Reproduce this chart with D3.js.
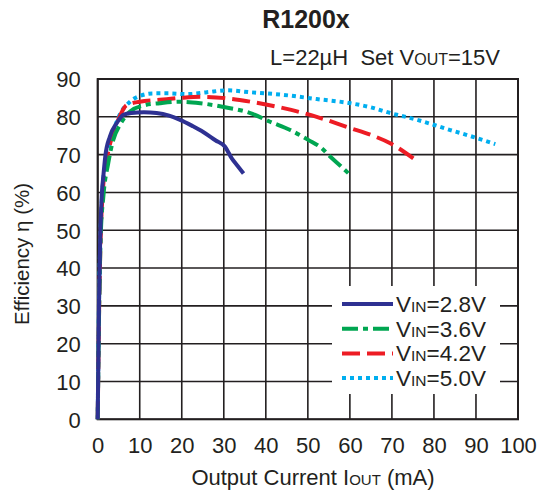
<!DOCTYPE html>
<html><head><meta charset="utf-8">
<script src="https://cdn.jsdelivr.net/npm/d3@7"></script>
<style>body{margin:0;background:#fff}svg{display:block}text{font-family:"Liberation Sans",Arial,sans-serif;fill:#231f20}</style>
</head><body><svg id="c" width="539" height="495"></svg>
<script>
const xTicks = [0,10,20,30,40,50,60,70,80,90,100];
const yTicks = [0,10,20,30,40,50,60,70,80,90];
const seriesNames = ["2.8V","3.6V","4.2V","5.0V"];
const vin28 = [[0,0],[0.3,30],[0.6,48],[0.95,59],[1.4,65],[1.8,69.5],[2.9,74.8],[4.5,78.3],[6.1,80.5],[8,81],[11,81.2],[14,81],[17,80.3],[19.6,79.2],[22.5,77.6],[25.1,76],[28,73.8],[30.3,72.1],[31.9,69],[33.3,67],[34.7,65]];
const vin36 = [[0,0],[0.35,30],[0.7,48],[1.35,59],[2.5,67.7],[3.7,73.9],[5.3,77.9],[7.7,81.4],[11.3,83.1],[14.8,83.6],[19.6,84],[24.4,83.6],[30,82.6],[36.3,81],[41,78.7],[45.8,76.5],[50.1,73.9],[53.3,71.7],[55.3,69.5],[57.8,67],[60.1,64.6]];
const vin42 = [[0,0],[0.35,30],[0.7,48],[1.2,60],[2.2,69],[3.5,75],[5,79.5],[6.9,83.1],[10,84],[14.8,84.5],[19.6,85],[24.4,85.3],[30.7,84.9],[36.3,84],[44.2,82.3],[52.1,80],[60.1,77],[65,75.2],[69.6,73],[75.1,69]];
const vin50 = [[0,0],[0.3,30],[0.65,48],[1.1,60],[2.1,69],[3.4,75],[5,80],[7.7,84],[10,85.5],[13.2,86.2],[17,86.2],[21.2,86],[26,86.5],[30.7,87],[36.3,86.5],[44.2,85.8],[52.1,84.7],[60.1,83.6],[65,82.5],[69.6,81],[76,79.2],[83.9,76.5],[89,74.8],[94.6,72.8]];
const seriesData = [vin28, vin36, vin42, vin50];
const colors = ["#2e3192","#00a651","#ed1c24","#00aeef"];
const dashes = [null,"16,5,5,5","18,7","4,4"];

const svg = d3.select("#c");
const x = d3.scaleLinear().domain([0,100]).range([97.7,518]);
const y = d3.scaleLinear().domain([0,90]).range([419.3,79]);

// grid
const g = svg.append("g");
g.selectAll(".vg").data(xTicks).join("line")
 .attr("x1",d=>x(d)).attr("x2",d=>x(d)).attr("y1",y(0)).attr("y2",y(90))
 .attr("stroke","#231f20").attr("stroke-width",1.6);
g.selectAll(".hg").data(yTicks).join("line")
 .attr("y1",d=>y(d)).attr("y2",d=>y(d)).attr("x1",x(0)).attr("x2",x(100))
 .attr("stroke","#231f20").attr("stroke-width",1.6);

// axes labels via d3 axes
const xa = svg.append("g").attr("transform",`translate(0,${y(0)})`)
 .call(d3.axisBottom(x).tickValues(xTicks).tickSize(0).tickPadding(20));
const ya = svg.append("g").attr("transform",`translate(${x(0)},0)`)
 .call(d3.axisLeft(y).tickValues(yTicks).tickSize(0).tickPadding(17));
[xa,ya].forEach(a=>{a.select(".domain").remove();a.selectAll("text").attr("font-size",22).attr("font-family",'"Liberation Sans",Arial,sans-serif').attr("fill","#231f20");});
ya.selectAll("text").attr("dy","0.36em");
xa.selectAll("text").attr("dy","0.71em").attr("y",18);

// border
svg.append("rect").attr("x",x(0)).attr("y",y(90)).attr("width",x(100)-x(0)).attr("height",y(0)-y(90))
 .attr("fill","none").attr("stroke","#231f20").attr("stroke-width",2);

// curves
const line = d3.line().x(d=>x(d[0])).y(d=>y(d[1])).curve(d3.curveMonotoneX);
const order = [3,2,1,0];
order.forEach(i=>{
  svg.append("path").datum(seriesData[i]).attr("d",line)
   .attr("fill","none").attr("stroke",colors[i]).attr("stroke-width",4)
   .attr("stroke-dasharray",dashes[i]);
});

// legend
svg.append("rect").attr("x",332).attr("y",286).attr("width",168).attr("height",108).attr("fill","#fff");
seriesNames.forEach((n,i)=>{
  const ly = 304 + i*24.7;
  svg.append("line").attr("x1",342).attr("x2",393).attr("y1",ly).attr("y2",ly)
   .attr("stroke",colors[i]).attr("stroke-width",4).attr("stroke-dasharray",dashes[i]);
  const t = svg.append("text").attr("x",396).attr("y",ly+8).attr("font-size",22.5);
  t.append("tspan").text("V");
  t.append("tspan").attr("font-size",15.5).text("IN");
  t.append("tspan").text("="+n);
});

// titles
svg.append("text").attr("x",306).attr("y",28).attr("text-anchor","middle")
 .attr("font-size",25).attr("font-weight","bold").text("R1200x");
const st = svg.append("text").attr("x",500).attr("y",65).attr("text-anchor","end").attr("font-size",22);
st.append("tspan").text("L=22\u00b5H\u00a0\u00a0Set V");
st.append("tspan").attr("font-size",16).text("OUT");
st.append("tspan").text("=15V");

const xl = svg.append("text").attr("x",313).attr("y",485).attr("text-anchor","middle").attr("font-size",22);
xl.append("tspan").text("Output Current I");
xl.append("tspan").attr("font-size",15).text("OUT");
xl.append("tspan").text(" (mA)");

svg.append("text").attr("transform","translate(29,254) rotate(-90)").attr("text-anchor","middle")
 .attr("font-size",20.5).text("Efficiency \u03b7 (%)");
</script></body></html>
